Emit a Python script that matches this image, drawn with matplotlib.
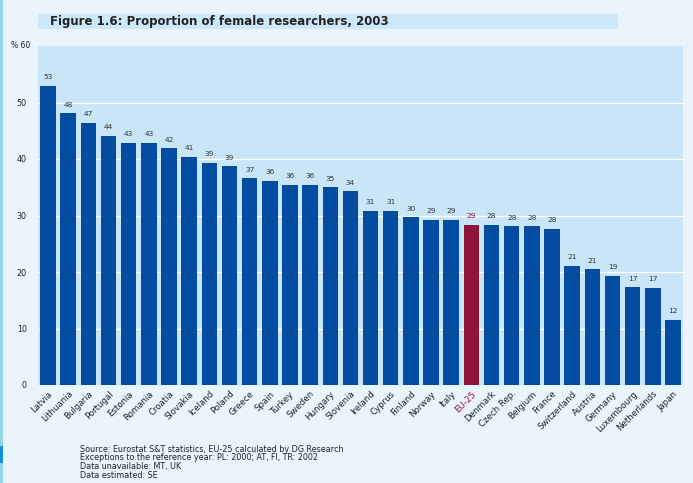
import matplotlib
matplotlib.use("Agg")
import matplotlib.pyplot as plt
from matplotlib.patches import Rectangle

COUNTRIES = [
    "Latvia", "Lithuania", "Bulgaria", "Portugal", "Estonia", "Romania", "Croatia",
    "Slovakia", "Iceland", "Poland", "Greece", "Spain", "Turkey", "Sweden", "Hungary",
    "Slovenia", "Ireland", "Cyprus", "Finland", "Norway", "Italy", "EU-25", "Denmark",
    "Czech Rep.", "Belgium", "France", "Switzerland", "Austria", "Germany",
    "Luxembourg", "Netherlands", "Japan",
]
VALUES = [
    53.0, 48.1, 46.4, 44.1, 42.9, 42.9, 41.9, 40.4, 39.3, 38.7, 36.6, 36.1, 35.4,
    35.4, 35.0, 34.3, 30.8, 30.8, 29.7, 29.2, 29.2, 28.3, 28.3, 28.1, 28.1, 27.6,
    21.1, 20.5, 19.3, 17.3, 17.2, 11.5,
]
VALUE_LABELS = [
    "53", "48", "47", "44", "43", "43", "42", "41", "39", "39", "37", "36", "36",
    "36", "35", "34", "31", "31", "30", "29", "29", "29", "28", "28", "28", "28",
    "21", "21", "19", "17", "17", "12",
]
HIGHLIGHT = "EU-25"
Y_TICKS = [0, 10, 20, 30, 40, 50]
FOOTNOTES = [
    "Source: Eurostat S&T statistics, EU-25 calculated by DG Research",
    "Exceptions to the reference year: PL: 2000; AT, FI, TR: 2002",
    "Data unavailable: MT, UK",
    "Data estimated: SE",
]

BLUE = "#034c9f"
RED = "#8c1538"
FIG_BG = "#eaf4fc"
PLOT_BG = "#c9e6f8"
TEXT = "#222222"

fig = plt.figure(figsize=(6.93, 4.83), dpi=100, facecolor=FIG_BG)
W, H = 693, 483


def fx(px):
    return px / W


def fy(py):
    return 1 - py / H


# left edge stripe
fig.patches.append(Rectangle((0, 0), fx(2.5), 1, transform=fig.transFigure,
                             facecolor="#92d3f0", edgecolor="none", zorder=0))
fig.patches.append(Rectangle((0, fy(463)), fx(2.5), fy(446) - fy(463), transform=fig.transFigure,
                             facecolor="#1590d0", edgecolor="none", zorder=0))
# title band
fig.patches.append(Rectangle((fx(38), fy(29)), fx(618 - 38), fy(14) - fy(29), transform=fig.transFigure,
                             facecolor="#cde8f8", edgecolor="none", zorder=0))
fig.text(fx(50), fy(21.5), "Figure 1.6: Proportion of female researchers, 2003",
         fontsize=8.5, fontweight="bold", color=TEXT, va="center", ha="left")

ax = fig.add_axes([fx(38), fy(385), fx(683 - 38), fy(46) - fy(385)])
ax.set_facecolor(PLOT_BG)

x = list(range(len(COUNTRIES)))
colors = [RED if c == HIGHLIGHT else BLUE for c in COUNTRIES]
ax.bar(x, VALUES, width=0.77, color=colors, zorder=3)

for xi, v, lab, c in zip(x, VALUES, VALUE_LABELS, COUNTRIES):
    ax.text(xi, v + 1.0, lab, ha="center", va="bottom", fontsize=5.3,
            color=RED if c == HIGHLIGHT else "#333333")

ax.set_xlim(-0.5, len(COUNTRIES) - 0.5)
ax.set_ylim(0, 60)
for t in Y_TICKS[1:]:
    ax.axhline(t, color="white", lw=0.9, zorder=1)

ax.set_yticks(Y_TICKS)
ax.set_yticklabels([str(t) for t in Y_TICKS], fontsize=5.8, color=TEXT)
ax.tick_params(axis="y", length=0, pad=8)
ax.text(-0.012, 60, "% 60", transform=ax.get_yaxis_transform(), fontsize=5.5, color=TEXT,
        ha="right", va="center")

ax.set_xticks(x)
ax.set_xticklabels(COUNTRIES, rotation=45, ha="right", rotation_mode="anchor",
                   fontsize=6.2, color=TEXT)
for lbl in ax.get_xticklabels():
    if lbl.get_text() == HIGHLIGHT:
        lbl.set_color(RED)
ax.tick_params(axis="x", length=0, pad=3)

for s in ax.spines.values():
    s.set_visible(False)

for i, line in enumerate(FOOTNOTES):
    fig.text(fx(80), fy(449 + 9 * i), line, fontsize=5.8, color=TEXT, va="center", ha="left")

fig.savefig("out.png", dpi=100, facecolor=FIG_BG)
